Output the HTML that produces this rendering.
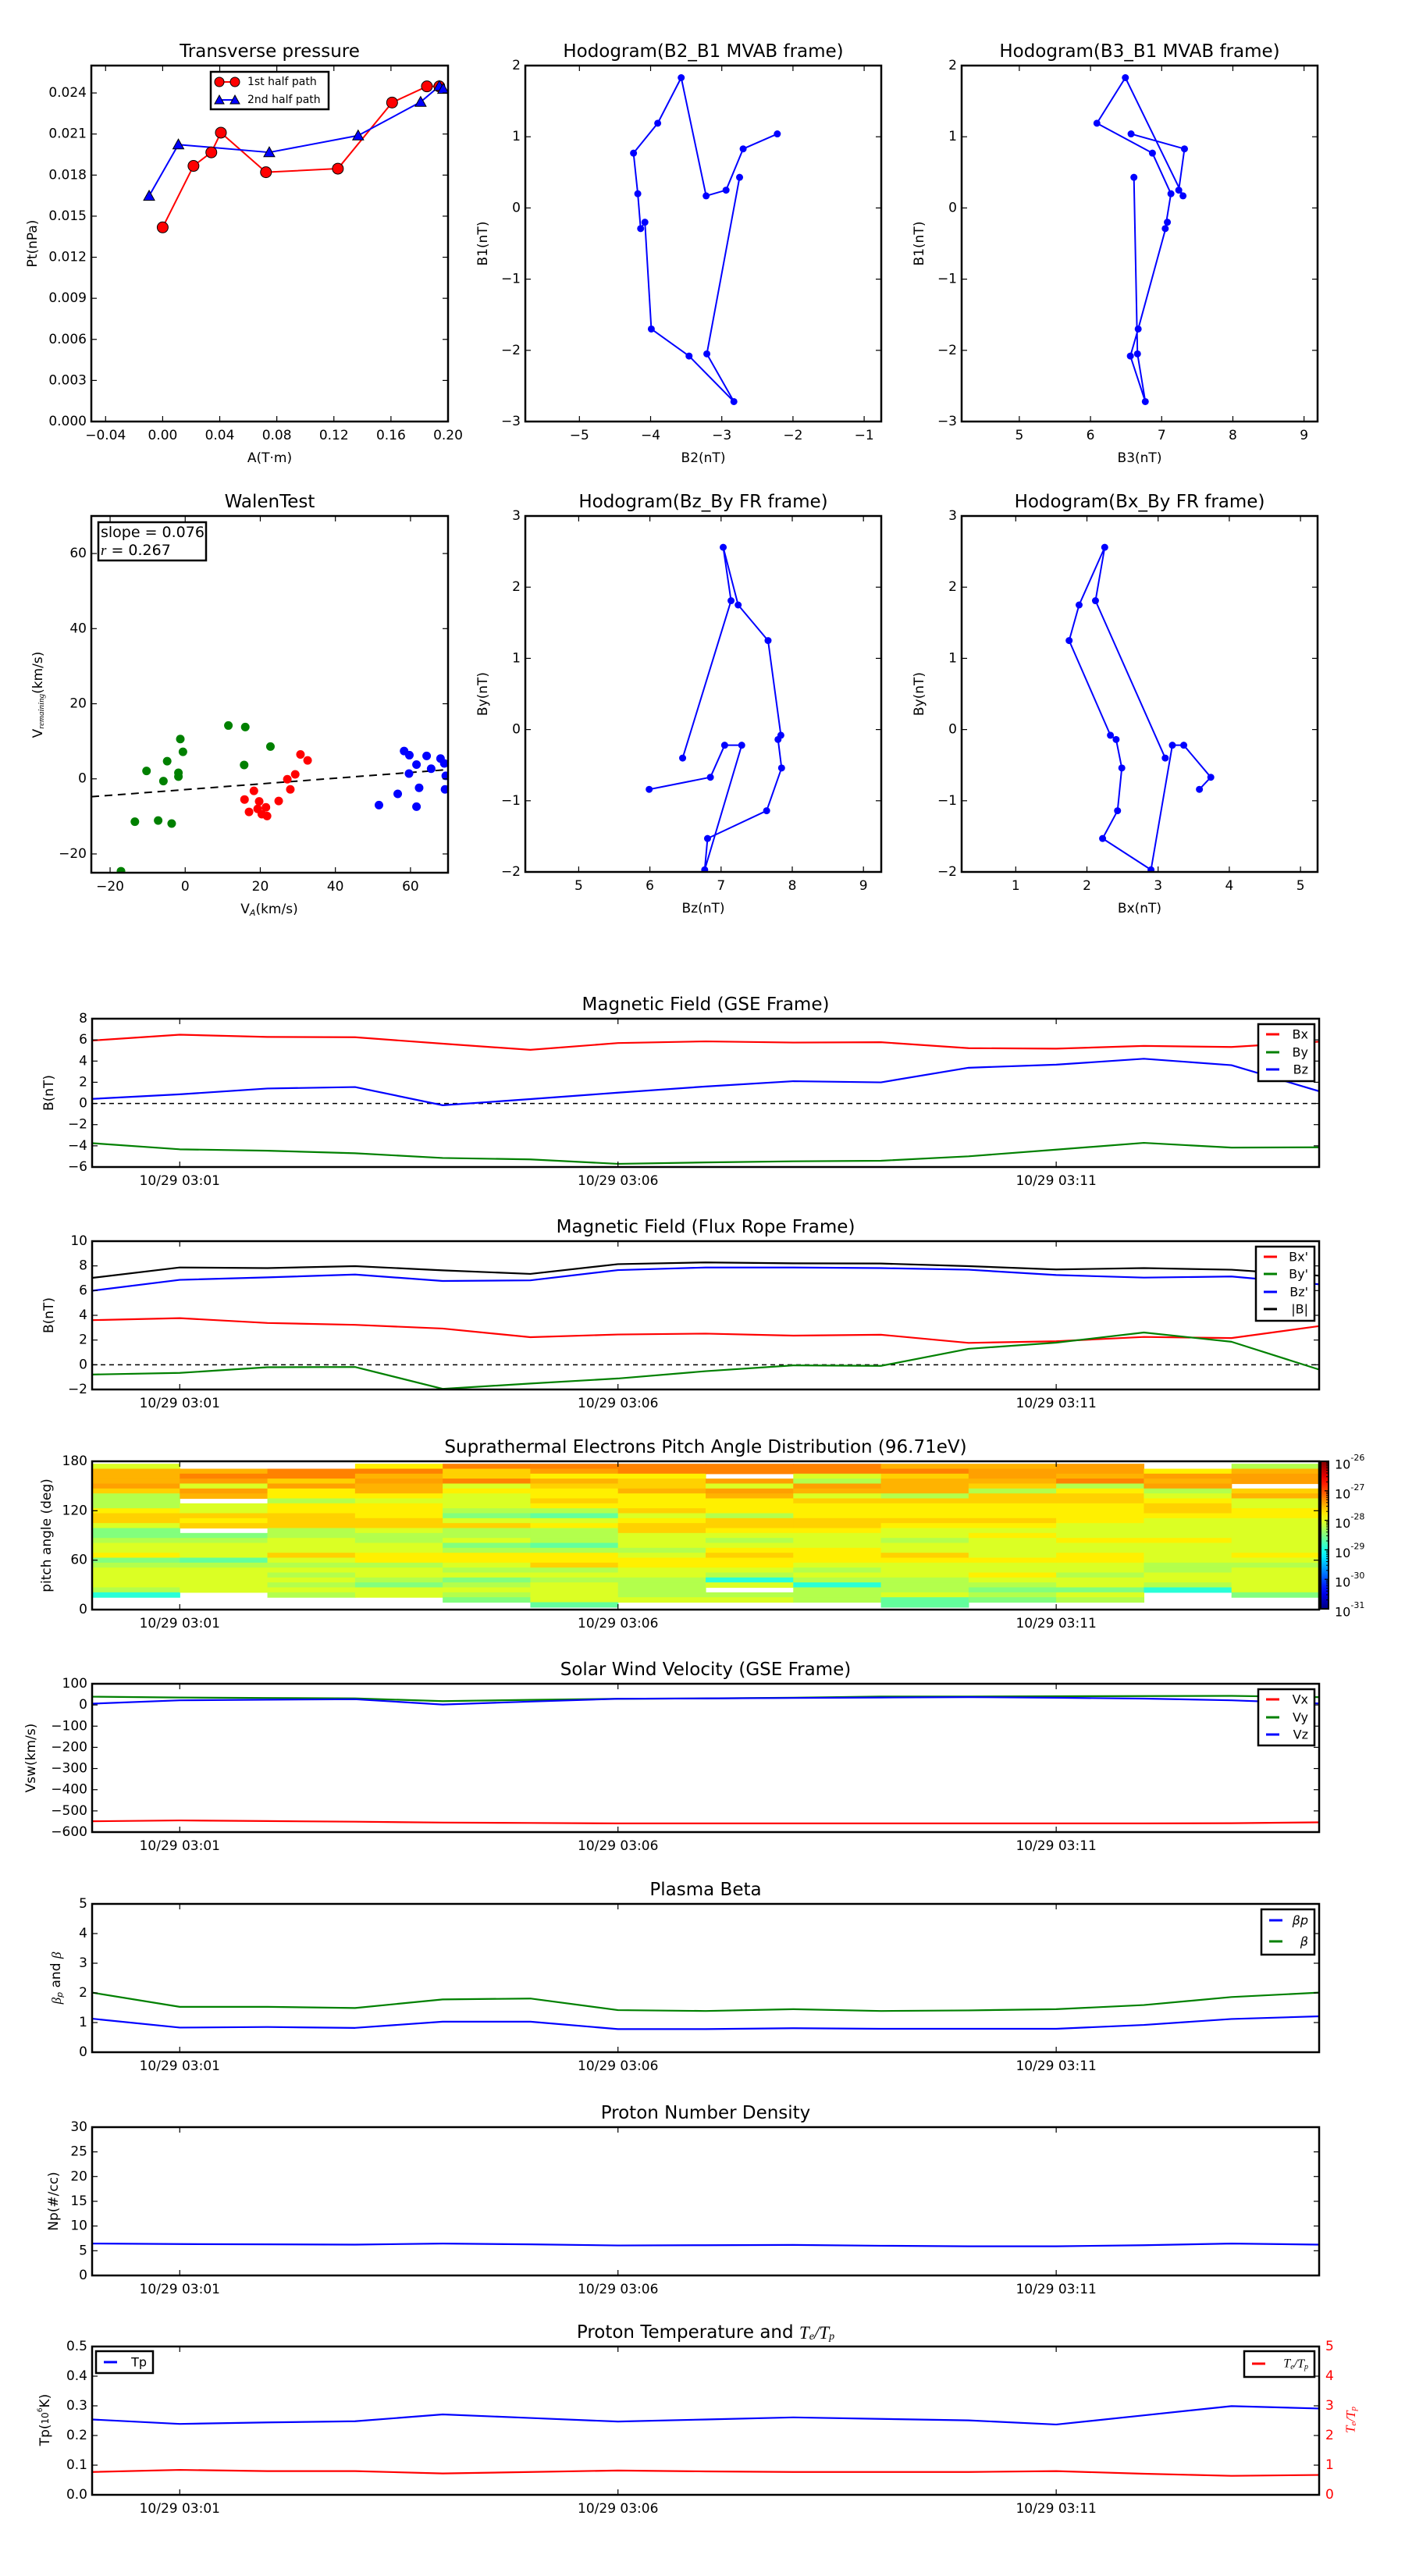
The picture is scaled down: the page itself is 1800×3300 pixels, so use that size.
<!DOCTYPE html>
<html>
<head>
<meta charset="utf-8">
<style>
html,body{margin:0;padding:0;background:#fff;}
svg{display:block;font-family:"DejaVu Sans","Liberation Sans",sans-serif;}
</style>
</head>
<body>
<svg id="fig" xmlns="http://www.w3.org/2000/svg" width="1800" height="3300" viewBox="0 0 1800 3300">
<defs id="defs"></defs>
<rect x="0" y="0" width="1800" height="3300" fill="#fff"></rect>
</svg>
<script>
// ---------- DATA ----------
// Transverse pressure
const ptRedA = [0.000,0.0216,0.0341,0.0408,0.0724,0.1228,0.1608,0.1852,0.1939];
const ptRedP = [0.01418,0.01867,0.01966,0.0211,0.01821,0.01847,0.0233,0.02448,0.02448];
const ptBlueA = [-0.0095,0.0110,0.0747,0.1370,0.1808,0.1939,0.1966];
const ptBlueP = [0.01648,0.02023,0.01966,0.02089,0.02334,0.0245,0.02429];
// MVAB hodograms (time order)
const mvB1 = [1.04,0.83,0.25,0.17,1.83,1.19,0.77,0.20,-0.29,-0.20,-1.70,-2.08,-2.72,-2.05,0.43];
const mvB2 = [-2.22,-2.70,-2.94,-3.22,-3.57,-3.90,-4.24,-4.18,-4.14,-4.08,-3.99,-3.46,-2.83,-3.21,-2.75];
const mvB3 = [6.57,7.32,7.24,7.30,6.49,6.09,6.87,7.13,7.05,7.08,6.67,6.56,6.77,6.66,6.61];
// Flux rope hodograms (time order)
const frBy = [-0.84,-0.67,-0.22,-0.22,-1.97,-1.53,-1.14,-0.54,-0.14,-0.08,1.25,1.75,2.56,1.81,-0.40];
const frBz = [5.99,6.85,7.05,7.29,6.77,6.81,7.64,7.85,7.80,7.84,7.66,7.24,7.03,7.14,6.46];
const frBx = [3.58,3.74,3.36,3.20,2.90,2.22,2.43,2.49,2.41,2.33,1.75,1.89,2.25,2.12,3.10];
// Walen test
const walenGreenX = [-17.1,-13.4,-10.3,-7.2,-5.8,-4.8,-3.6,-1.8,-1.8,-1.3,-0.6,11.5,16.0,15.7,22.7];
const walenGreenY = [-24.6,-11.4,2.1,-11.1,-0.6,4.7,-11.9,1.6,0.6,10.6,7.2,14.2,13.8,3.7,8.6];
const walenRedX = [15.8,17.0,18.3,19.7,19.3,20.4,21.5,21.8,24.9,27.2,28.0,29.3,30.7,32.6];
const walenRedY = [-5.5,-8.8,-3.2,-6.0,-8.0,-9.4,-7.6,-9.9,-5.9,-0.1,-2.8,1.2,6.5,4.9];
const walenBlueX = [51.6,56.6,58.3,59.7,59.6,61.6,61.6,62.3,64.3,65.5,68.0,69.0,69.4,69.2];
const walenBlueY = [-7.0,-4.0,7.4,6.3,1.4,3.8,-7.4,-2.4,6.1,2.7,5.4,4.1,0.8,-2.8];
const walenSlope = 0.076;
const walenIntercept = -2.87;
// Time series (minutes after 03:00)
const tMin = [0,1,2,3,4,5,6,7,8,9,10,11,12,13,14];
const timeTicks = [1,6,11];
const timeTickLabels = ["10/29 03:01","10/29 03:06","10/29 03:11"];
const gseBx = [5.94,6.49,6.28,6.25,5.64,5.06,5.70,5.86,5.75,5.78,5.22,5.17,5.43,5.33,5.83];
const gseBy = [-3.75,-4.33,-4.46,-4.70,-5.15,-5.28,-5.70,-5.57,-5.46,-5.41,-4.99,-4.36,-3.72,-4.17,-4.14];
const gseBz = [0.43,0.86,1.41,1.55,-0.17,0.41,1.02,1.60,2.10,1.99,3.37,3.66,4.22,3.61,1.15];
const frTsBx = [3.61,3.77,3.38,3.23,2.93,2.23,2.45,2.52,2.36,2.43,1.77,1.90,2.25,2.16,3.13];
const frTsBy = [-0.79,-0.66,-0.20,-0.18,-1.95,-1.52,-1.11,-0.52,-0.05,-0.09,1.29,1.79,2.61,1.86,-0.39];
const frTsBz = [5.99,6.87,7.07,7.30,6.78,6.83,7.66,7.87,7.87,7.82,7.69,7.26,7.05,7.14,6.51];
const frTsBt = [7.03,7.87,7.82,7.98,7.64,7.35,8.14,8.28,8.21,8.19,7.98,7.71,7.82,7.69,7.21];
const vx = [-549,-545,-548,-551,-555,-557,-559,-559,-559,-559,-559,-559,-559,-558,-554];
const vy = [39,35,33,31,18,24,29,31,34,40,40,41,42,43,37];
const vz = [6,22,25,27,2,16,29,31,33,35,37,34,30,22,7];
const betaP = [1.13,0.83,0.85,0.82,1.03,1.03,0.78,0.78,0.81,0.79,0.79,0.79,0.92,1.12,1.21];
const betaT = [2.01,1.53,1.53,1.49,1.78,1.81,1.42,1.39,1.45,1.39,1.41,1.45,1.59,1.86,2.01];
const np = [6.46,6.35,6.29,6.24,6.46,6.29,6.07,6.12,6.18,6.01,5.90,5.90,6.12,6.46,6.24];
const tp = [0.254,0.239,0.244,0.248,0.271,0.259,0.247,0.254,0.261,0.256,0.251,0.237,0.268,0.299,0.291];
const teTp = [0.77,0.84,0.80,0.80,0.72,0.77,0.82,0.79,0.77,0.77,0.77,0.80,0.71,0.64,0.67];
// Pitch angle distribution: log10 flux, 14 one-minute columns x 29 bins (177 deg down to 3 deg, 6 deg bins)
const padStart = [0,1,2,3,4,5,6,7,8,9,10,11,12,13];
const padBinTop = [177,171,165,159,153,147,141,135,129,123,117,111,105,99,93,87,81,75,69,63,57,51,45,39,33,27,21,15,9];
const padLog = [
 [-28.05,-27.5,-27.5,-27.5,-27.41,-27.65,-28.25,-28.25,-28.25,-27.8,-27.65,-27.65,-28.05,-28.49,-28.49,-28.25,-28.05,-28.05,-27.8,-28.49,-28.25,-28.05,-28.05,-28.05,-28.05,-28.25,-28.93,null,null],
 [null,-27.5,-27.26,-27.41,-28.05,-27.41,-27.5,null,-28.05,-28.05,-27.65,-27.8,-27.65,null,-28.49,-28.25,-28.05,-28.05,-28.05,-28.64,-28.25,-28.05,-28.05,-28.05,-28.05,-28.05,null,null,null],
 [null,-27.26,-27.26,-27.65,-27.41,-27.8,-27.8,-28.25,-27.8,-27.8,-27.65,-27.65,-27.65,-28.25,-28.25,-28.05,-28.05,-28.05,-27.65,-28.05,-28.25,-28.05,-28.25,-28.05,-28.25,-28.05,-28.25,null,null],
 [-27.8,-27.26,-27.5,-27.41,-27.5,-27.5,-27.8,-28.05,-27.8,-27.8,-27.8,-27.65,-27.65,-28.05,-28.25,-28.25,-28.05,-28.05,-27.8,-27.8,-28.25,-28.05,-28.05,-28.25,-28.49,-28.05,-28.05,null,null],
 [-27.26,-27.65,-27.65,-27.26,-28.05,-27.8,-28.05,-28.05,-28.05,-28.25,-28.49,-28.05,-27.65,-28.25,-28.25,-28.05,-28.49,-28.25,-27.8,-27.8,-28.05,-28.25,-28.05,-28.49,-28.25,-28.05,-28.25,-28.49,null],
 [-27.26,-27.41,-27.8,-27.5,-27.65,-27.8,-27.8,-27.65,-27.8,-28.25,-28.64,-28.05,-27.8,-28.25,-28.25,-28.25,-28.64,-28.25,-27.8,-27.8,-27.65,-28.25,-28.05,-28.25,-28.05,-28.05,-28.05,-28.05,-28.64],
 [-27.26,-27.26,-27.8,-27.65,-27.65,-27.5,-27.8,-27.8,-27.8,-27.65,-28.05,-27.8,-27.65,-27.65,-28.05,-28.05,-28.05,-28.25,-28.05,-27.8,-27.8,-28.05,-28.05,-28.25,-28.25,-28.25,-28.25,-28.05,null],
 [-27.26,-27.26,null,-27.41,-28.05,-27.41,-27.5,-27.8,-27.8,-27.8,-28.25,-27.65,-27.65,-27.8,-28.05,-28.25,-28.05,-27.8,-27.65,-27.8,-27.8,-28.05,-28.25,-28.93,-28.05,null,-28.25,-28.05,null],
 [-27.26,-27.26,-28.05,-28.25,-27.41,-27.5,-28.05,-27.65,-27.8,-27.8,-27.8,-27.65,-27.65,-27.8,-28.05,-28.05,-28.05,-27.8,-27.8,-27.8,-28.05,-28.25,-28.05,-28.25,-28.93,-28.25,-28.25,-28.25,null],
 [-27.5,-27.26,-27.65,-27.5,-27.5,-27.5,-28.25,-27.65,-27.8,-27.8,-27.8,-27.65,-27.8,-28.05,-28.05,-28.25,-28.05,-28.05,-27.65,-27.8,-28.05,-28.05,-28.05,-28.25,-28.25,-28.25,-28.05,-28.64,-28.64],
 [-27.5,-27.41,-27.41,-27.5,-27.65,-28.25,-27.65,-27.65,-27.8,-27.8,-27.8,-27.65,-27.8,-28.05,-27.8,-28.05,-28.05,-28.05,-28.05,-27.8,-28.05,-28.05,-27.8,-28.05,-28.25,-28.49,-28.25,-28.49,null],
 [-27.41,-27.41,-27.5,-27.26,-28.25,-27.8,-27.65,-27.65,-27.8,-27.8,-27.8,-27.8,-28.05,-28.05,-28.05,-27.8,-28.05,-28.05,-27.8,-27.8,-28.05,-28.05,-28.25,-28.05,-28.05,-28.49,-28.05,-28.25,null],
 [null,-27.8,-27.41,-27.5,-27.41,-28.25,-28.05,-27.8,-27.65,-27.65,-27.8,-28.05,-28.05,-28.05,-28.05,-27.8,-28.05,-28.05,-28.05,-28.05,-28.25,-28.25,-28.05,-28.05,-28.25,-28.93,null,null,null],
 [-28.25,-27.5,-27.41,-27.41,null,-27.65,-27.5,-28.05,-28.05,-27.8,-27.8,-28.05,-28.05,-28.05,-28.05,-28.05,-28.05,-28.05,-27.8,-28.05,-28.25,-28.05,-28.05,-28.05,-28.05,-28.05,-28.49,null,null]
];
const cbarExp = [-31,-30,-29,-28,-27,-26];

// ---------- HELPERS ----------
const SVGNS = "http://www.w3.org/2000/svg";
const fig = document.getElementById('fig');
const defs = document.getElementById('defs');
function mk(tag, attrs, name, parent, interact) {
  const el = document.createElementNS(SVGNS, tag);
  for (const k in attrs) el.setAttribute(k, attrs[k]);
  
  
  (parent || fig).appendChild(el);
  return el;
}
function txt(s, x, y, size, anchor, name, parent, extra) {
  const a = Object.assign({x:x, y:y, 'font-size':size, 'text-anchor':anchor||'middle', 'dominant-baseline':'central', fill:'#000'}, extra||{});
  const t = mk('text', a, name, parent);
  t.textContent = s;
  return t;
}
let clipId = 0;
function makeAxes(name, x0, y0, x1, y1, xd, yd) {
  const g = mk('g', {}, name);
  clipId++;
  const cp = mk('clipPath', {id:'clip'+clipId}, name+'-clip', defs);
  const cr = mk('rect', {x:x0, y:y0, width:x1-x0, height:y1-y0}, name+'-clip-rect', cp);
  const plot = mk('g', {'clip-path':'url(#clip'+clipId+')'}, name+'-plot-area', g);
  const ax = {g:g, plot:plot, x0:x0, y0:y0, x1:x1, y1:y1, name:name,
    sx: v => x0 + (v - xd[0]) / (xd[1] - xd[0]) * (x1 - x0),
    sy: v => y1 - (v - yd[0]) / (yd[1] - yd[0]) * (y1 - y0)};
  return ax;
}
function frame(ax) {
  mk('rect', {x:ax.x0, y:ax.y0, width:ax.x1-ax.x0, height:ax.y1-ax.y0, fill:'none', stroke:'#000', 'stroke-width':2.5}, ax.name+'-frame', ax.g);
}
function xTicks(ax, vals, labels, size, both) {
  vals.forEach((v, i) => {
    const x = ax.sx(v);
    mk('line', {x1:x, x2:x, y1:ax.y1, y2:ax.y1-7, stroke:'#000', 'stroke-width':1.2}, ax.name+'-xtick', ax.g);
    if (both !== false) mk('line', {x1:x, x2:x, y1:ax.y0, y2:ax.y0+7, stroke:'#000', 'stroke-width':1.2}, ax.name+'-xtick-top', ax.g);
    txt(labels[i], x, ax.y1+18, size||17, 'middle', ax.name+'-xtick-label', ax.g);
  });
}
function yTicks(ax, vals, labels, size, right, color, noOpp) {
  vals.forEach((v, i) => {
    const y = ax.sy(v);
    if (!right) {
      mk('line', {x1:ax.x0, x2:ax.x0+7, y1:y, y2:y, stroke:'#000', 'stroke-width':1.2}, ax.name+'-ytick', ax.g);
      if (!noOpp) mk('line', {x1:ax.x1, x2:ax.x1-7, y1:y, y2:y, stroke:'#000', 'stroke-width':1.2}, ax.name+'-ytick-right', ax.g);
      txt(labels[i], ax.x0-6, y, size||17, 'end', ax.name+'-ytick-label', ax.g, {fill:color||'#000'});
    } else {
      mk('line', {x1:ax.x1, x2:ax.x1-7, y1:y, y2:y, stroke:'#000', 'stroke-width':1.2}, ax.name+'-ytick-r', ax.g);
      txt(labels[i], ax.x1+6, y, size||17, 'start', ax.name+'-ytick-label-right', ax.g, {fill:color||'#000'});
    }
  });
}
function polyline(ax, xs, ys, color, w, name) {
  const pts = xs.map((v, i) => ax.sx(v).toFixed(2) + ',' + ax.sy(ys[i]).toFixed(2)).join(' ');
  return mk('polyline', {points:pts, fill:'none', stroke:color, 'stroke-width':w, 'stroke-linejoin':'round'}, name, ax.plot);
}
function dots(ax, xs, ys, color, r, name, stroke) {
  xs.forEach((v, i) => {
    const a = {cx:ax.sx(v), cy:ax.sy(ys[i]), r:r, fill:color};
    if (stroke) { a.stroke = '#000'; a['stroke-width'] = 1; }
    mk('circle', a, name, ax.plot);
  });
}
function tris(ax, xs, ys, color, s, name) {
  xs.forEach((v, i) => {
    const x = ax.sx(v), y = ax.sy(ys[i]);
    mk('polygon', {points:`${x},${y-s} ${x-s},${y+s*0.8} ${x+s},${y+s*0.8}`, fill:color, stroke:'#000', 'stroke-width':1}, name, ax.plot);
  });
}
function title(ax, s, size) {
  return txt(s, (ax.x0+ax.x1)/2, ax.y0-18, size||23, 'middle', ax.name+'-title', ax.g);
}
function xlabel(ax, s, y, size) {
  return txt(s, (ax.x0+ax.x1)/2, y, size||17, 'middle', ax.name+'-x-axis-title', ax.g);
}
function ylabel(ax, s, x, size, color) {
  const cy = (ax.y0+ax.y1)/2;
  return txt(s, x, cy, size||17, 'middle', ax.name+'-y-axis-title', ax.g, {transform:`rotate(-90 ${x} ${cy})`, fill:color||'#000'});
}
function legend(ax, bx, by, bw, bh, entries, name) {
  const g = mk('g', {}, name, ax.g);
  mk('rect', {x:bx, y:by, width:bw, height:bh, fill:'#fff', stroke:'#000', 'stroke-width':2.5}, name+'-box', g);
  entries.forEach(e => {
    mk('line', {x1:bx+10, x2:bx+27, y1:e.y, y2:e.y, stroke:e.color, 'stroke-width':3}, 'legend-line-'+e.key, g);
    const t = txt(e.label, bx+bw-8, e.y, 16, 'end', 'legend-entry-'+e.key, g);
    if (e.italic) t.setAttribute('font-style', 'italic');
  });
  return g;
}
const range = (a, b, s) => { const r = []; for (let v = a; v <= b + 1e-9; v += s) r.push(+v.toFixed(6)); return r; };

// ---------- ROW 1 ----------
// Transverse pressure
(function(){
  const ax = makeAxes('transverse-pressure-chart', 117, 84, 574, 540, [-0.05, 0.20], [0, 0.026]);
  polyline(ax, ptRedA, ptRedP, '#ff0000', 2, 'first-half-path-line');
  polyline(ax, ptBlueA, ptBlueP, '#0000ff', 2, 'second-half-path-line');
  dots(ax, ptRedA, ptRedP, '#ff0000', 7, 'first-half-point', true);
  tris(ax, ptBlueA, ptBlueP, '#0000ff', 7, 'second-half-point');
  const xv = [-0.04,0,0.04,0.08,0.12,0.16,0.20];
  xTicks(ax, xv, ['\u22120.04','0.00','0.04','0.08','0.12','0.16','0.20']);
  const yv = range(0, 0.024, 0.003);
  yTicks(ax, yv, yv.map(v => v.toFixed(3)));
  frame(ax);
  title(ax, 'Transverse pressure');
  xlabel(ax, 'A(T\u00b7m)', 587);
  ylabel(ax, 'Pt(nPa)', 42);
  const lg = mk('g', {}, 'transverse-legend', ax.g);
  mk('rect', {x:270, y:92, width:151, height:48, fill:'#fff', stroke:'#000', 'stroke-width':2.5}, 'transverse-legend-box', lg);
  mk('line', {x1:281, x2:301, y1:105, y2:105, stroke:'#f00', 'stroke-width':2}, 'legend-line-first-half', lg);
  mk('circle', {cx:281, cy:105, r:6, fill:'#f00', stroke:'#000', 'stroke-width':1}, 'legend-marker-first-half', lg);
  mk('circle', {cx:301, cy:105, r:6, fill:'#f00', stroke:'#000', 'stroke-width':1}, 'legend-marker-first-half', lg);
  txt('1st half path', 317, 105, 14, 'start', 'legend-entry-first-half', lg);
  mk('line', {x1:281, x2:301, y1:128, y2:128, stroke:'#00f', 'stroke-width':2}, 'legend-line-second-half', lg);
  mk('polygon', {points:'281,122 275,133 287,133', fill:'#00f', stroke:'#000', 'stroke-width':1}, 'legend-marker-second-half', lg);
  mk('polygon', {points:'301,122 295,133 307,133', fill:'#00f', stroke:'#000', 'stroke-width':1}, 'legend-marker-second-half', lg);
  txt('2nd half path', 317, 128, 14, 'start', 'legend-entry-second-half', lg);
})();

function hodogram(name, x0, y0, xd, yd, xs, ys, xt, yt, ttl, xl, yl) {
  const ax = makeAxes(name, x0, y0, x0+456, y0+456, xd, yd);
  polyline(ax, xs, ys, '#0000ff', 2, name+'-path');
  dots(ax, xs, ys, '#0000ff', 4.5, name+'-point');
  xTicks(ax, xt, xt.map(v => v < 0 ? '\u2212'+Math.abs(v) : ''+v));
  yTicks(ax, yt, yt.map(v => v < 0 ? '\u2212'+Math.abs(v) : ''+v));
  frame(ax);
  title(ax, ttl);
  xlabel(ax, xl, y0+503);
  ylabel(ax, yl, x0-54);
}
hodogram('hodogram-b2-b1', 673, 84, [-5.76,-0.76], [-3,2], mvB2, mvB1, [-5,-4,-3,-2,-1], [-3,-2,-1,0,1,2], 'Hodogram(B2_B1 MVAB frame)', 'B2(nT)', 'B1(nT)');
hodogram('hodogram-b3-b1', 1232, 84, [4.19,9.19], [-3,2], mvB3, mvB1, [5,6,7,8,9], [-3,-2,-1,0,1,2], 'Hodogram(B3_B1 MVAB frame)', 'B3(nT)', 'B1(nT)');

// ---------- ROW 2 ----------
(function(){
  const ax = makeAxes('walen-test-chart', 117, 661, 574, 1118, [-25, 70], [-25, 70]);
  const lx = [-25, 70];
  const lineEl = mk('line', {x1:ax.sx(lx[0]), y1:ax.sy(walenIntercept+walenSlope*lx[0]), x2:ax.sx(lx[1]), y2:ax.sy(walenIntercept+walenSlope*lx[1]), stroke:'#000', 'stroke-width':2, 'stroke-dasharray':'10,7'}, 'walen-fit-line', ax.plot);
  dots(ax, walenGreenX, walenGreenY, '#008000', 5.5, 'walen-point-green');
  dots(ax, walenRedX, walenRedY, '#ff0000', 5.5, 'walen-point-red');
  dots(ax, walenBlueX, walenBlueY, '#0000ff', 5.5, 'walen-point-blue');
  const xt = [-20,0,20,40,60];
  xTicks(ax, xt, xt.map(v => v < 0 ? '\u2212'+Math.abs(v) : ''+v));
  const yt = [-20,0,20,40,60];
  yTicks(ax, yt, yt.map(v => v < 0 ? '\u2212'+Math.abs(v) : ''+v));
  frame(ax);
  title(ax, 'WalenTest');
  const xl = txt('', 345, 1165, 17, 'middle', 'walen-x-axis-title', ax.g);
  xl.innerHTML = 'V<tspan font-size="11" font-style="italic" dy="4">A</tspan><tspan dy="-4">(km/s)</tspan>';
  const yl = txt('', 49, 890, 17, 'middle', 'walen-y-axis-title', ax.g, {transform:'rotate(-90 49 890)'});
  yl.innerHTML = 'V<tspan font-size="11" font-style="italic" font-family="Liberation Serif" dy="4">remaining</tspan><tspan dy="-4">(km/s)</tspan>';
  const bx = mk('g', {}, 'walen-stats-box', ax.g);
  mk('rect', {x:126, y:669, width:138, height:49, fill:'#fff', stroke:'#000', 'stroke-width':2.5}, 'walen-stats-frame', bx);
  txt('slope = 0.076', 129, 682, 19, 'start', 'walen-slope-text', bx);
  const rt = txt('', 129, 705, 19, 'start', 'walen-r-text', bx);
  rt.innerHTML = '<tspan font-style="italic" font-family="Liberation Serif">r</tspan> = 0.267';
})();
hodogram('hodogram-bz-by', 673, 661, [4.25,9.25], [-2,3], frBz, frBy, [5,6,7,8,9], [-2,-1,0,1,2,3], 'Hodogram(Bz_By FR frame)', 'Bz(nT)', 'By(nT)');
hodogram('hodogram-bx-by', 1232, 661, [0.24,5.24], [-2,3], frBx, frBy, [1,2,3,4,5], [-2,-1,0,1,2,3], 'Hodogram(Bx_By FR frame)', 'Bx(nT)', 'By(nT)');

// ---------- TIME SERIES ----------
const TSX0 = 118, TSX1 = 1690;
function tsAxes(name, y0, yd, ttl) {
  const ax = makeAxes(name, TSX0, y0, TSX1, y0+190, [0, 14], yd);
  return ax;
}
function tsFinish(ax, ttl, yt, ytl) {
  xTicks(ax, timeTicks, timeTickLabels);
  yTicks(ax, yt, ytl);
  frame(ax);
  title(ax, ttl);
}
const lab = v => v < 0 ? '\u2212'+Math.abs(v) : ''+v;

// Magnetic field GSE
(function(){
  const ax = tsAxes('magnetic-field-gse-chart', 1305, [-6, 8]);
  mk('line', {x1:ax.x0, x2:ax.x1, y1:ax.sy(0), y2:ax.sy(0), stroke:'#000', 'stroke-width':1.5, 'stroke-dasharray':'6,5'}, 'zero-line', ax.plot);
  polyline(ax, tMin, gseBx, '#ff0000', 2.2, 'series-bx');
  polyline(ax, tMin, gseBy, '#008000', 2.2, 'series-by');
  polyline(ax, tMin, gseBz, '#0000ff', 2.2, 'series-bz');
  const yt = range(-6, 8, 2);
  tsFinish(ax, 'Magnetic Field (GSE Frame)', yt, yt.map(lab));
  ylabel(ax, 'B(nT)', 63);
  legend(ax, 1612, 1312, 72, 73, [{key:'bx',label:'Bx',color:'#f00',y:1325},{key:'by',label:'By',color:'#008000',y:1348},{key:'bz',label:'Bz',color:'#00f',y:1370}], 'gse-legend');
})();
// Magnetic field FR
(function(){
  const ax = tsAxes('magnetic-field-fr-chart', 1590, [-2, 10]);
  mk('line', {x1:ax.x0, x2:ax.x1, y1:ax.sy(0), y2:ax.sy(0), stroke:'#000', 'stroke-width':1.5, 'stroke-dasharray':'6,5'}, 'zero-line', ax.plot);
  polyline(ax, tMin, frTsBx, '#ff0000', 2.2, 'series-bx-prime');
  polyline(ax, tMin, frTsBy, '#008000', 2.2, 'series-by-prime');
  polyline(ax, tMin, frTsBz, '#0000ff', 2.2, 'series-bz-prime');
  polyline(ax, tMin, frTsBt, '#000000', 2.2, 'series-btotal');
  const yt = range(-2, 10, 2);
  tsFinish(ax, 'Magnetic Field (Flux Rope Frame)', yt, yt.map(lab));
  ylabel(ax, 'B(nT)', 63);
  legend(ax, 1609, 1597, 75, 95, [{key:'bx',label:"Bx'",color:'#f00',y:1610},{key:'by',label:"By'",color:'#008000',y:1632},{key:'bz',label:"Bz'",color:'#00f',y:1655},{key:'bt',label:'|B|',color:'#000',y:1677}], 'fr-legend');
})();
// PAD
function jet(f) {
  const c = v => Math.round(255 * Math.max(0, Math.min(1, v)));
  return `rgb(${c(1.5-Math.abs(4*f-3))},${c(1.5-Math.abs(4*f-2))},${c(1.5-Math.abs(4*f-1))})`;
}
(function(){
  const ax = tsAxes('pitch-angle-heatmap', 1872, [0, 180]);
  const lo = cbarExp[0], hi = cbarExp[cbarExp.length-1];
  padLog.forEach((col, ci) => {
    col.forEach((v, ri) => {
      if (v === null) return;
      const xa = ax.sx(padStart[ci]), xb = ax.sx(padStart[ci]+1);
      const ya = ax.sy(padBinTop[ri]), yb = ax.sy(padBinTop[ri]-6);
      mk('rect', {x:xa.toFixed(2), y:ya.toFixed(2), width:(xb-xa+0.6).toFixed(2), height:(yb-ya+0.6).toFixed(2), fill:jet((v-lo)/(hi-lo))}, 'heatmap-cell', ax.plot);
    });
  });
  tsFinish(ax, 'Suprathermal Electrons Pitch Angle Distribution (96.71eV)', [0,60,120,180], ['0','60','120','180']);
  ylabel(ax, 'pitch angle (deg)', 60);
  // colorbar
  const grad = mk('linearGradient', {id:'jetgrad', x1:0, y1:1, x2:0, y2:0}, 'colorbar-gradient', defs);
  for (let i = 0; i <= 20; i++) mk('stop', {offset:(i/20), 'stop-color':jet(i/20)}, 'gradient-stop', grad);
  const cg = mk('g', {}, 'colorbar', ax.g);
  const cx0 = 1692, cx1 = 1702, cy0 = 1872, cy1 = 2061;
  mk('rect', {x:cx0, y:cy0, width:cx1-cx0, height:cy1-cy0, fill:'url(#jetgrad)', stroke:'#000', 'stroke-width':2}, 'colorbar-bar', cg);
  cbarExp.forEach((e, i) => {
    const y = cy1 - (e-lo)/(hi-lo)*(cy1-cy0);
    mk('line', {x1:cx1, x2:cx1-5, y1:y, y2:y, stroke:'#000', 'stroke-width':1.2}, 'colorbar-tick', cg);
    for (let m = 2; m <= 9 && e < hi; m++) {
      const ym = cy1 - (e + Math.log10(m) - lo)/(hi-lo)*(cy1-cy0);
      mk('line', {x1:cx1, x2:cx1-3, y1:ym, y2:ym, stroke:'#000', 'stroke-width':1}, 'colorbar-minor-tick', cg);
    }
    const t = txt('', 1710, y+4, 16, 'start', 'colorbar-tick-label', cg);
    t.innerHTML = '10<tspan font-size="11" dy="-9">' + (e<0?'-':'') + Math.abs(e) + '</tspan>';
  });
})();
// Velocity
(function(){
  const ax = tsAxes('solar-wind-velocity-chart', 2157, [-600, 100]);
  polyline(ax, tMin, vx, '#ff0000', 2.2, 'series-vx');
  polyline(ax, tMin, vy, '#008000', 2.2, 'series-vy');
  polyline(ax, tMin, vz, '#0000ff', 2.2, 'series-vz');
  const yt = range(-600, 100, 100);
  tsFinish(ax, 'Solar Wind Velocity (GSE Frame)', yt, yt.map(lab));
  ylabel(ax, 'Vsw(km/s)', 40);
  legend(ax, 1612, 2164, 72, 72, [{key:'vx',label:'Vx',color:'#f00',y:2177},{key:'vy',label:'Vy',color:'#008000',y:2200},{key:'vz',label:'Vz',color:'#00f',y:2222}], 'velocity-legend');
})();
// Beta
(function(){
  const ax = tsAxes('plasma-beta-chart', 2439, [0, 5]);
  polyline(ax, tMin, betaP, '#0000ff', 2.2, 'series-beta-p');
  polyline(ax, tMin, betaT, '#008000', 2.2, 'series-beta');
  const yt = range(0, 5, 1);
  tsFinish(ax, 'Plasma Beta', yt, yt.map(lab));
  const yl = txt('', 72, 2534, 17, 'middle', 'plasma-beta-y-axis-title', ax.g, {transform:'rotate(-90 72 2534)'});
  yl.innerHTML = '<tspan font-style="italic" font-family="Liberation Serif">\u03b2</tspan><tspan font-size="11" font-style="italic" dy="4">p</tspan><tspan dy="-4"> and </tspan><tspan font-style="italic" font-family="Liberation Serif">\u03b2</tspan>';
  const lg = legend(ax, 1616, 2446, 68, 58, [{key:'beta-p',label:'\u03b2p',color:'#00f',y:2460,italic:true},{key:'beta',label:'\u03b2',color:'#008000',y:2487,italic:true}], 'beta-legend');
})();
// Np
(function(){
  const ax = tsAxes('proton-density-chart', 2725, [0, 30]);
  polyline(ax, tMin, np, '#0000ff', 2.2, 'series-np');
  const yt = range(0, 30, 5);
  tsFinish(ax, 'Proton Number Density', yt, yt.map(lab));
  ylabel(ax, 'Np(#/cc)', 69);
})();
// Tp
(function(){
  const ax = tsAxes('proton-temperature-chart', 3006, [0, 0.5]);
  const ax2 = {sx: ax.sx, sy: v => ax.y1 - v/5*(ax.y1-ax.y0)};
  polyline(ax, tMin, tp, '#0000ff', 2.2, 'series-tp');
  const pts = tMin.map((v, i) => ax.sx(v).toFixed(2) + ',' + ax2.sy(teTp[i]).toFixed(2)).join(' ');
  mk('polyline', {points:pts, fill:'none', stroke:'#ff0000', 'stroke-width':2.2}, 'series-te-tp', ax.plot);
  const yt = range(0, 0.5, 0.1);
  xTicks(ax, timeTicks, timeTickLabels);
  yTicks(ax, yt, yt.map(v => v.toFixed(1)), 17, false, '#000', true);
  [0,1,2,3,4,5].forEach(v => {
    const y = ax2.sy(v);
    mk('line', {x1:ax.x1, x2:ax.x1-7, y1:y, y2:y, stroke:'#000', 'stroke-width':1.2}, 'te-tp-ytick', ax.g);
    txt(''+v, ax.x1+8, y, 17, 'start', 'te-tp-ytick-label', ax.g, {fill:'#ff0000'});
  });
  frame(ax);
  const tt = txt('', (ax.x0+ax.x1)/2, ax.y0-18, 23, 'middle', 'proton-temperature-title', ax.g);
  tt.innerHTML = 'Proton Temperature and <tspan font-style="italic" font-family="Liberation Serif">T</tspan><tspan font-size="14" font-style="italic" font-family="Liberation Serif" dy="5">e</tspan><tspan dy="-5" font-style="italic" font-family="Liberation Serif">/T</tspan><tspan font-size="14" font-style="italic" font-family="Liberation Serif" dy="5">p</tspan>';
  const yl = txt('', 58, 3100, 17, 'middle', 'tp-y-axis-title', ax.g, {transform:'rotate(-90 58 3100)'});
  yl.innerHTML = 'Tp(<tspan font-size="12">10</tspan><tspan font-size="9" dy="-6">6</tspan><tspan dy="6">K)</tspan>';
  const yr = txt('', 1730, 3100, 17, 'middle', 'te-tp-y-axis-title', ax.g, {transform:'rotate(-90 1730 3100)', fill:'#ff0000', 'font-style':'italic', 'font-family':'Liberation Serif'});
  yr.innerHTML = 'T<tspan font-size="11" dy="4">e</tspan><tspan dy="-4">/T</tspan><tspan font-size="11" dy="4">p</tspan>';
  legend(ax, 123, 3012, 73, 28, [{key:'tp',label:'Tp',color:'#00f',y:3026}], 'tp-legend');
  const lg = mk('g', {}, 'te-tp-legend', ax.g);
  mk('rect', {x:1594, y:3012, width:90, height:33, fill:'#fff', stroke:'#000', 'stroke-width':2.5}, 'te-tp-legend-box', lg);
  mk('line', {x1:1604, x2:1621, y1:3028, y2:3028, stroke:'#f00', 'stroke-width':3}, 'legend-line-te-tp', lg);
  const lt = txt('', 1676, 3028, 16, 'end', 'legend-entry-te-tp', lg, {'font-style':'italic', 'font-family':'Liberation Serif'});
  lt.innerHTML = 'T<tspan font-size="10" dy="4">e</tspan><tspan dy="-4">/T</tspan><tspan font-size="10" dy="4">p</tspan>';
})();
</script>
</body>
</html>
